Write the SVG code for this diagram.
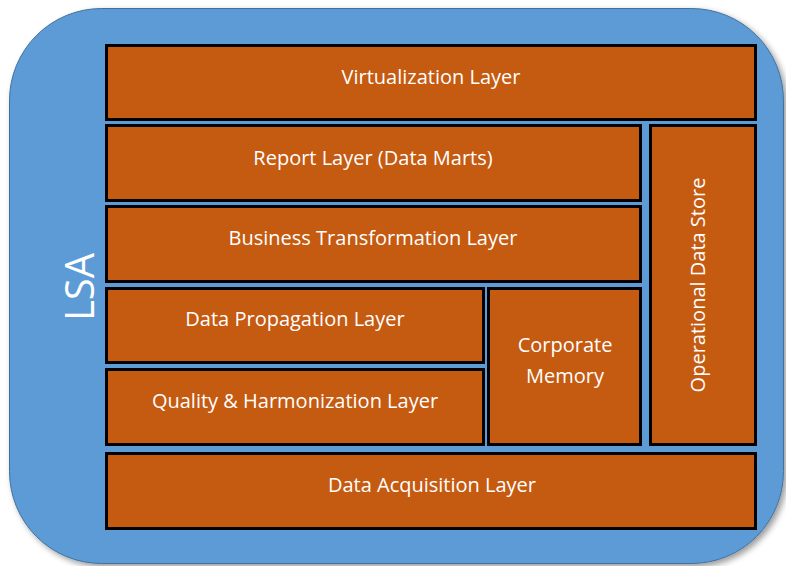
<svg xmlns="http://www.w3.org/2000/svg" width="786" height="566" viewBox="0 0 786 566">
<style>
.layer{fill:#C55A11;stroke:#000;stroke-width:3}
.t{fill:#fff;font-family:"Open Sans","DejaVu Sans",sans-serif;font-size:20px;text-anchor:middle;dominant-baseline:central}
</style>
<defs>
<filter id="sh" x="-5%" y="-5%" width="115%" height="115%">
<feGaussianBlur in="SourceAlpha" stdDeviation="3"/>
<feOffset dx="3" dy="3" result="b"/>
<feComponentTransfer><feFuncA type="linear" slope="0.4"/></feComponentTransfer>
<feMerge><feMergeNode/><feMergeNode in="SourceGraphic"/></feMerge>
</filter>
</defs>
<rect width="786" height="566" fill="#fff"/>
<g id="lsa">
<rect x="9.5" y="8.5" width="774" height="555" rx="92" ry="92" fill="#5B9BD5" stroke="#41719C" stroke-width="1" filter="url(#sh)"/>
<text class="t" transform="translate(78,287) rotate(-90)" style="font-size:40px">LSA</text>
</g>
<g id="virtualization">
<rect class="layer" x="106.5" y="45.5" width="649" height="74"/>
<text class="t" x="431" y="76">Virtualization Layer</text>
</g>
<g id="report">
<rect class="layer" x="106.5" y="125.5" width="534" height="75"/>
<text class="t" x="373" y="157">Report Layer (Data Marts)</text>
</g>
<g id="business">
<rect class="layer" x="106.5" y="206.5" width="534" height="75"/>
<text class="t" x="373" y="237">Business Transformation Layer</text>
</g>
<g id="propagation">
<rect class="layer" x="106.5" y="288.5" width="377" height="74"/>
<text class="t" x="295" y="318">Data Propagation Layer</text>
</g>
<g id="quality">
<rect class="layer" x="106.5" y="369.5" width="377" height="75"/>
<text class="t" x="295" y="400">Quality &amp; Harmonization Layer</text>
</g>
<g id="corporate">
<rect class="layer" x="488.5" y="288.5" width="152" height="156"/>
<text class="t" x="565" y="344">Corporate</text>
<text class="t" x="565" y="375">Memory</text>
</g>
<g id="ods">
<rect class="layer" x="650.5" y="125.5" width="105" height="319"/>
<text class="t" transform="translate(697,285) rotate(-90)">Operational Data Store</text>
</g>
<g id="acquisition">
<rect class="layer" x="106.5" y="453.5" width="649" height="75"/>
<text class="t" x="432" y="484">Data Acquisition Layer</text>
</g>
<g id="connectors"/>
</svg>
